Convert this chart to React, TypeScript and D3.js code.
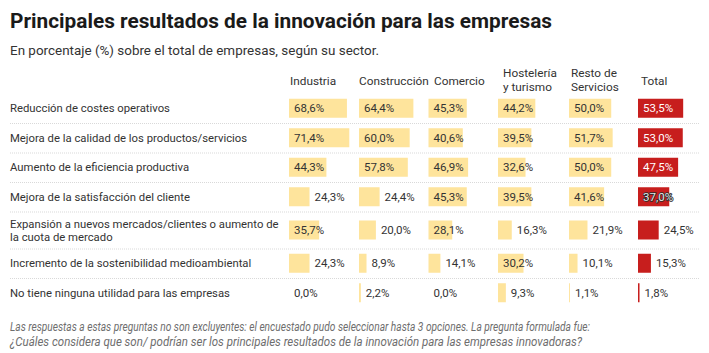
import React from "react";
import * as d3 from "d3";

const title = "Principales resultados de la innovación para las empresas";
const subtitle = "En porcentaje (%) sobre el total de empresas, según su sector.";
const footnoteLines = [
  "Las respuestas a estas preguntas no son excluyentes: el encuestado pudo seleccionar hasta 3 opciones. La pregunta formulada fue:",
  "¿Cuáles considera que son/ podrían ser los principales resultados de la innovación para las empresas innovadoras?",
];

const categories = [
  "Reducción de costes operativos",
  "Mejora de la calidad de los productos/servicios",
  "Aumento de la eficiencia productiva",
  "Mejora de la satisfacción del cliente",
  "Expansión a nuevos mercados/clientes o aumento de\nla cuota de mercado",
  "Incremento de la sostenibilidad medioambiental",
  "No tiene ninguna utilidad para las empresas",
];

const columnHeaders = [
  "Industria",
  "Construcción",
  "Comercio",
  "Hostelería\ny turismo",
  "Resto de\nServicios",
  "Total",
];

const industria = [68.6, 71.4, 44.3, 24.3, 35.7, 24.3, 0.0];
const construccion = [64.4, 60.0, 57.8, 24.4, 20.0, 8.9, 2.2];
const comercio = [45.3, 40.6, 46.9, 45.3, 28.1, 14.1, 0.0];
const hosteleria = [44.2, 39.5, 32.6, 39.5, 16.3, 30.2, 9.3];
const restoServicios = [50.0, 51.7, 50.0, 41.6, 21.9, 10.1, 1.1];
const total = [53.5, 53.0, 47.5, 37.0, 24.5, 15.3, 1.8];

const series = [industria, construccion, comercio, hosteleria, restoServicios, total];

const W = 709;
const H = 353;
const colBarX = [289, 359, 428.5, 498, 569, 638];
const colHeadX = [290, 359, 434, 503, 571, 641];

const YELLOW = "#fee49c";
const RED = "#c71e1d";
const TEXT = "#333333";

const fmt = (v: number) => v.toFixed(1).replace(".", ",") + "%";

export default function App() {
  const x = d3.scaleLinear().domain([0, 71.4]).range([0, 60.3]);

  const baseRowH = 29.5;
  const extraLine = 7.5;
  const tableTop = 93.5;
  const rows: { top: number; h: number; c: number; lines: string[] }[] = [];
  let yCur = tableTop;
  categories.forEach((cat) => {
    const lines = cat.split("\n");
    const h = baseRowH + (lines.length - 1) * extraLine;
    rows.push({ top: yCur, h, c: yCur + h / 2, lines });
    yCur += h;
  });

  const barH = 19;

  return (
    <svg
      width={W}
      height={H}
      style={{ position: "absolute", left: 0, top: 0, background: "#fff" }}
      fontFamily="Roboto, 'Noto Sans', sans-serif"
    >
      <rect x={0} y={0} width={W} height={H} fill="#fff" />
      <text
        x={10}
        y={28}
        fontSize={21}
        fontWeight={700}
        fill="#1a1a1a"
        textLength={542}
        lengthAdjust="spacingAndGlyphs"
      >
        {title}
      </text>
      <text
        x={10}
        y={55}
        fontSize={13}
        fill={TEXT}
        textLength={369}
        lengthAdjust="spacingAndGlyphs"
      >
        {subtitle}
      </text>

      {columnHeaders.map((hd, j) => {
        const lines = hd.split("\n");
        const ys = lines.length === 1 ? [85] : [77, 90.5];
        return lines.map((ln, k) => (
          <text
            key={`h${j}-${k}`}
            x={colHeadX[j]}
            y={ys[k]}
            fontSize={11.8}
            fill={TEXT}
          >
            {ln}
          </text>
        ));
      })}

      {rows.slice(0, rows.length - 1).map((r, i) => (
        <line
          key={`d${i}`}
          x1={10}
          x2={699}
          y1={r.top + r.h + 0.5}
          y2={r.top + r.h + 0.5}
          stroke="#d9d9d9"
          strokeWidth={1}
          strokeDasharray="1,1"
        />
      ))}

      {rows.map((r, i) => (
        <g key={`r${i}`}>
          {r.lines.map((ln, k) => {
            const n = r.lines.length;
            const y0 = r.c + 4 - ((n - 1) * 13) / 2 + k * 13;
            return (
              <text key={k} x={10} y={y0} fontSize={11.3} fill={TEXT}>
                {ln}
              </text>
            );
          })}
          {series.map((s, j) => {
            const v = s[i];
            const w = x(v);
            const isTotal = j === series.length - 1;
            const inside = w >= 22;
            const bx = colBarX[j];
            const by = r.c - barH / 2;
            let fill = TEXT;
            let stroke: string | undefined = undefined;
            if (isTotal && inside) {
              fill = "#ffffff";
              if (w < 36) {
                fill = "#e6e6e6";
                stroke = "#2a2a2a";
              }
            }
            return (
              <g key={j}>
                {w > 0 && (
                  <rect
                    x={bx}
                    y={by}
                    width={w}
                    height={barH}
                    fill={isTotal ? RED : YELLOW}
                  />
                )}
                <text
                  x={inside ? bx + 5 : bx + w + 5}
                  y={r.c + 4}
                  fontSize={11.5}
                  fill={fill}
                  stroke={stroke}
                  strokeWidth={stroke ? 1.6 : 0}
                  style={{ paintOrder: "stroke" }}
                >
                  {fmt(v)}
                </text>
              </g>
            );
          })}
        </g>
      ))}

      {footnoteLines.map((ln, k) => (
        <text
          key={`f${k}`}
          x={10}
          y={331 + k * 15}
          fontSize={12}
          fontStyle="italic"
          fill="#6e6e6e"
          textLength={k === 0 ? 580 : 572}
          lengthAdjust="spacingAndGlyphs"
        >
          {ln}
        </text>
      ))}
    </svg>
  );
}
